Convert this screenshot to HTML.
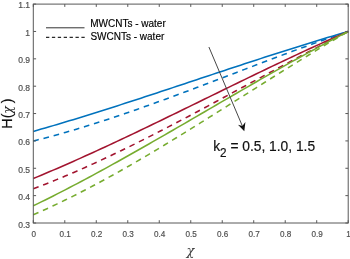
<!DOCTYPE html>
<html><head><meta charset="utf-8"><title>chart</title>
<style>html,body{margin:0;padding:0;background:#fff}body{width:350px;height:259px;overflow:hidden}</style>
</head><body>
<svg width="350" height="259" viewBox="0 0 350 259" style="display:block;filter:blur(0.35px)">
<rect width="350" height="259" fill="#fff"/>
<path d="M33.30,131.40 L37.29,130.26 L41.27,129.12 L45.26,127.96 L49.24,126.80 L53.23,125.63 L57.22,124.45 L61.20,123.26 L65.19,122.06 L69.17,120.86 L73.16,119.65 L77.15,118.43 L81.13,117.20 L85.12,115.97 L89.11,114.73 L93.09,113.49 L97.08,112.24 L101.06,110.98 L105.05,109.72 L109.04,108.45 L113.02,107.18 L117.01,105.90 L120.99,104.62 L124.98,103.33 L128.97,102.04 L132.95,100.74 L136.94,99.44 L140.92,98.14 L144.91,96.84 L148.90,95.53 L152.88,94.22 L156.87,92.90 L160.85,91.59 L164.84,90.27 L168.83,88.95 L172.81,87.63 L176.80,86.30 L180.78,84.98 L184.77,83.65 L188.76,82.33 L192.74,81.00 L196.73,79.68 L200.72,78.35 L204.70,77.02 L208.69,75.70 L212.67,74.37 L216.66,73.05 L220.65,71.73 L224.63,70.41 L228.62,69.09 L232.60,67.77 L236.59,66.46 L240.58,65.14 L244.56,63.83 L248.55,62.53 L252.53,61.22 L256.52,59.92 L260.51,58.62 L264.49,57.33 L268.48,56.04 L272.46,54.76 L276.45,53.47 L280.44,52.20 L284.42,50.93 L288.41,49.66 L292.39,48.40 L296.38,47.15 L300.37,45.90 L304.35,44.66 L308.34,43.42 L312.33,42.19 L316.31,40.97 L320.30,39.75 L324.28,38.54 L328.27,37.34 L332.26,36.15 L336.24,34.97 L340.23,33.79 L344.21,32.62 L348.20,31.46" fill="none" stroke="#0072BD" stroke-width="1.55"/>
<path d="M33.30,141.00 L37.29,140.00 L41.27,138.98 L45.26,137.94 L49.24,136.88 L53.23,135.81 L57.22,134.71 L61.20,133.59 L65.19,132.46 L69.17,131.31 L73.16,130.14 L77.15,128.95 L81.13,127.75 L85.12,126.53 L89.11,125.30 L93.09,124.05 L97.08,122.78 L101.06,121.50 L105.05,120.21 L109.04,118.90 L113.02,117.58 L117.01,116.25 L120.99,114.91 L124.98,113.55 L128.97,112.18 L132.95,110.80 L136.94,109.41 L140.92,108.01 L144.91,106.60 L148.90,105.18 L152.88,103.76 L156.87,102.32 L160.85,100.87 L164.84,99.42 L168.83,97.96 L172.81,96.50 L176.80,95.02 L180.78,93.54 L184.77,92.06 L188.76,90.57 L192.74,89.07 L196.73,87.57 L200.72,86.07 L204.70,84.56 L208.69,83.05 L212.67,81.54 L216.66,80.02 L220.65,78.51 L224.63,76.99 L228.62,75.47 L232.60,73.95 L236.59,72.43 L240.58,70.91 L244.56,69.39 L248.55,67.87 L252.53,66.35 L256.52,64.84 L260.51,63.32 L264.49,61.81 L268.48,60.31 L272.46,58.80 L276.45,57.30 L280.44,55.81 L284.42,54.32 L288.41,52.83 L292.39,51.35 L296.38,49.88 L300.37,48.41 L304.35,46.95 L308.34,45.50 L312.33,44.05 L316.31,42.62 L320.30,41.19 L324.28,39.77 L328.27,38.36 L332.26,36.96 L336.24,35.57 L340.23,34.19 L344.21,32.82 L348.20,31.46" fill="none" stroke="#0072BD" stroke-width="1.55" stroke-dasharray="5.65,4.86"/>
<path d="M33.30,178.50 L37.29,176.85 L41.27,175.19 L45.26,173.52 L49.24,171.83 L53.23,170.13 L57.22,168.42 L61.20,166.69 L65.19,164.95 L69.17,163.20 L73.16,161.44 L77.15,159.66 L81.13,157.88 L85.12,156.08 L89.11,154.28 L93.09,152.46 L97.08,150.64 L101.06,148.81 L105.05,146.97 L109.04,145.11 L113.02,143.26 L117.01,141.39 L120.99,139.52 L124.98,137.63 L128.97,135.75 L132.95,133.85 L136.94,131.95 L140.92,130.05 L144.91,128.13 L148.90,126.22 L152.88,124.30 L156.87,122.37 L160.85,120.44 L164.84,118.51 L168.83,116.57 L172.81,114.63 L176.80,112.69 L180.78,110.75 L184.77,108.80 L188.76,106.85 L192.74,104.90 L196.73,102.95 L200.72,101.00 L204.70,99.05 L208.69,97.10 L212.67,95.15 L216.66,93.20 L220.65,91.25 L224.63,89.30 L228.62,87.35 L232.60,85.41 L236.59,83.47 L240.58,81.53 L244.56,79.59 L248.55,77.66 L252.53,75.73 L256.52,73.81 L260.51,71.89 L264.49,69.97 L268.48,68.06 L272.46,66.16 L276.45,64.26 L280.44,62.36 L284.42,60.48 L288.41,58.60 L292.39,56.73 L296.38,54.86 L300.37,53.01 L304.35,51.16 L308.34,49.32 L312.33,47.49 L316.31,45.66 L320.30,43.85 L324.28,42.05 L328.27,40.26 L332.26,38.48 L336.24,36.71 L340.23,34.95 L344.21,33.20 L348.20,31.46" fill="none" stroke="#A2142F" stroke-width="1.55"/>
<path d="M33.30,188.80 L37.29,187.29 L41.27,185.76 L45.26,184.21 L49.24,182.63 L53.23,181.03 L57.22,179.40 L61.20,177.75 L65.19,176.09 L69.17,174.40 L73.16,172.69 L77.15,170.96 L81.13,169.21 L85.12,167.44 L89.11,165.65 L93.09,163.84 L97.08,162.02 L101.06,160.17 L105.05,158.31 L109.04,156.44 L113.02,154.55 L117.01,152.64 L120.99,150.72 L124.98,148.78 L128.97,146.83 L132.95,144.87 L136.94,142.89 L140.92,140.90 L144.91,138.89 L148.90,136.88 L152.88,134.85 L156.87,132.82 L160.85,130.77 L164.84,128.71 L168.83,126.64 L172.81,124.57 L176.80,122.49 L180.78,120.39 L184.77,118.29 L188.76,116.19 L192.74,114.07 L196.73,111.95 L200.72,109.83 L204.70,107.70 L208.69,105.56 L212.67,103.42 L216.66,101.28 L220.65,99.13 L224.63,96.98 L228.62,94.83 L232.60,92.67 L236.59,90.52 L240.58,88.36 L244.56,86.20 L248.55,84.05 L252.53,81.89 L256.52,79.73 L260.51,77.58 L264.49,75.43 L268.48,73.28 L272.46,71.13 L276.45,68.98 L280.44,66.84 L284.42,64.71 L288.41,62.57 L292.39,60.45 L296.38,58.32 L300.37,56.21 L304.35,54.10 L308.34,52.00 L312.33,49.90 L316.31,47.82 L320.30,45.74 L324.28,43.67 L328.27,41.61 L332.26,39.56 L336.24,37.52 L340.23,35.49 L344.21,33.47 L348.20,31.46" fill="none" stroke="#A2142F" stroke-width="1.55" stroke-dasharray="5.65,4.86"/>
<path d="M33.30,205.80 L37.29,203.86 L41.27,201.91 L45.26,199.94 L49.24,197.95 L53.23,195.94 L57.22,193.92 L61.20,191.88 L65.19,189.83 L69.17,187.76 L73.16,185.68 L77.15,183.59 L81.13,181.48 L85.12,179.36 L89.11,177.22 L93.09,175.08 L97.08,172.92 L101.06,170.75 L105.05,168.57 L109.04,166.38 L113.02,164.18 L117.01,161.97 L120.99,159.75 L124.98,157.52 L128.97,155.28 L132.95,153.03 L136.94,150.78 L140.92,148.52 L144.91,146.25 L148.90,143.98 L152.88,141.70 L156.87,139.42 L160.85,137.13 L164.84,134.83 L168.83,132.53 L172.81,130.23 L176.80,127.92 L180.78,125.62 L184.77,123.30 L188.76,120.99 L192.74,118.67 L196.73,116.36 L200.72,114.04 L204.70,111.72 L208.69,109.40 L212.67,107.09 L216.66,104.77 L220.65,102.45 L224.63,100.14 L228.62,97.82 L232.60,95.51 L236.59,93.21 L240.58,90.90 L244.56,88.60 L248.55,86.31 L252.53,84.02 L256.52,81.73 L260.51,79.45 L264.49,77.17 L268.48,74.90 L272.46,72.64 L276.45,70.38 L280.44,68.14 L284.42,65.90 L288.41,63.66 L292.39,61.44 L296.38,59.23 L300.37,57.02 L304.35,54.83 L308.34,52.64 L312.33,50.47 L316.31,48.31 L320.30,46.16 L324.28,44.02 L328.27,41.89 L332.26,39.78 L336.24,37.68 L340.23,35.59 L344.21,33.52 L348.20,31.46" fill="none" stroke="#77AC30" stroke-width="1.55"/>
<path d="M33.30,214.80 L37.29,213.06 L41.27,211.28 L45.26,209.48 L49.24,207.65 L53.23,205.80 L57.22,203.91 L61.20,202.00 L65.19,200.06 L69.17,198.10 L73.16,196.11 L77.15,194.09 L81.13,192.06 L85.12,190.00 L89.11,187.91 L93.09,185.81 L97.08,183.68 L101.06,181.53 L105.05,179.36 L109.04,177.17 L113.02,174.97 L117.01,172.74 L120.99,170.50 L124.98,168.23 L128.97,165.96 L132.95,163.66 L136.94,161.35 L140.92,159.02 L144.91,156.68 L148.90,154.33 L152.88,151.96 L156.87,149.58 L160.85,147.18 L164.84,144.78 L168.83,142.36 L172.81,139.94 L176.80,137.50 L180.78,135.05 L184.77,132.60 L188.76,130.13 L192.74,127.66 L196.73,125.18 L200.72,122.70 L204.70,120.21 L208.69,117.71 L212.67,115.21 L216.66,112.71 L220.65,110.20 L224.63,107.68 L228.62,105.17 L232.60,102.65 L236.59,100.14 L240.58,97.62 L244.56,95.10 L248.55,92.58 L252.53,90.07 L256.52,87.55 L260.51,85.04 L264.49,82.53 L268.48,80.02 L272.46,77.52 L276.45,75.02 L280.44,72.52 L284.42,70.03 L288.41,67.55 L292.39,65.08 L296.38,62.61 L300.37,60.15 L304.35,57.70 L308.34,55.26 L312.33,52.82 L316.31,50.40 L320.30,47.99 L324.28,45.59 L328.27,43.20 L332.26,40.83 L336.24,38.46 L340.23,36.12 L344.21,33.78 L348.20,31.46" fill="none" stroke="#77AC30" stroke-width="1.55" stroke-dasharray="5.65,4.86"/>
<rect x="33.3" y="4.1" width="314.9" height="218.9" fill="none" stroke="#585858" stroke-width="1"/>
<path d="M33.30,223.0v-2.8M33.30,4.1v2.8M64.79,223.0v-2.8M64.79,4.1v2.8M96.28,223.0v-2.8M96.28,4.1v2.8M127.77,223.0v-2.8M127.77,4.1v2.8M159.26,223.0v-2.8M159.26,4.1v2.8M190.75,223.0v-2.8M190.75,4.1v2.8M222.24,223.0v-2.8M222.24,4.1v2.8M253.73,223.0v-2.8M253.73,4.1v2.8M285.22,223.0v-2.8M285.22,4.1v2.8M316.71,223.0v-2.8M316.71,4.1v2.8M348.20,223.0v-2.8M348.20,4.1v2.8M33.3,223.00h2.8M348.2,223.00h-2.8M33.3,195.64h2.8M348.2,195.64h-2.8M33.3,168.28h2.8M348.2,168.28h-2.8M33.3,140.91h2.8M348.2,140.91h-2.8M33.3,113.55h2.8M348.2,113.55h-2.8M33.3,86.19h2.8M348.2,86.19h-2.8M33.3,58.83h2.8M348.2,58.83h-2.8M33.3,31.46h2.8M348.2,31.46h-2.8M33.3,4.10h2.8M348.2,4.10h-2.8" stroke="#585858" stroke-width="1" fill="none"/>
<g font-family="Liberation Sans, Arial, sans-serif" font-size="9.6" fill="#505050" stroke="#505050" stroke-width="0.2">
<text transform="translate(33.70,236.6) scale(0.85,1)" text-anchor="middle">0</text>
<text transform="translate(65.19,236.6) scale(0.85,1)" text-anchor="middle">0.1</text>
<text transform="translate(96.68,236.6) scale(0.85,1)" text-anchor="middle">0.2</text>
<text transform="translate(128.17,236.6) scale(0.85,1)" text-anchor="middle">0.3</text>
<text transform="translate(159.66,236.6) scale(0.85,1)" text-anchor="middle">0.4</text>
<text transform="translate(191.15,236.6) scale(0.85,1)" text-anchor="middle">0.5</text>
<text transform="translate(222.64,236.6) scale(0.85,1)" text-anchor="middle">0.6</text>
<text transform="translate(254.13,236.6) scale(0.85,1)" text-anchor="middle">0.7</text>
<text transform="translate(285.62,236.6) scale(0.85,1)" text-anchor="middle">0.8</text>
<text transform="translate(317.11,236.6) scale(0.85,1)" text-anchor="middle">0.9</text>
<text transform="translate(348.60,236.6) scale(0.85,1)" text-anchor="middle">1</text>
<text transform="translate(30,227.50) scale(0.89,1)" text-anchor="end">0.3</text>
<text transform="translate(30,200.14) scale(0.89,1)" text-anchor="end">0.4</text>
<text transform="translate(30,172.78) scale(0.89,1)" text-anchor="end">0.5</text>
<text transform="translate(30,145.41) scale(0.89,1)" text-anchor="end">0.6</text>
<text transform="translate(30,118.05) scale(0.89,1)" text-anchor="end">0.7</text>
<text transform="translate(30,90.69) scale(0.89,1)" text-anchor="end">0.8</text>
<text transform="translate(30,63.33) scale(0.89,1)" text-anchor="end">0.9</text>
<text transform="translate(30,35.96) scale(0.89,1)" text-anchor="end">1</text>
<text transform="translate(30,8.30) scale(0.89,1)" text-anchor="end">1.1</text>
</g>
<path d="M46,27.8H84.5" stroke="#333" stroke-width="1"/>
<path d="M46,37.3H85" stroke="#2a2a2a" stroke-width="1.15" stroke-dasharray="3.3,2.6"/>
<g font-family="Liberation Sans, Arial, sans-serif" font-size="10" fill="#000" stroke="#000" stroke-width="0.15">
<text x="90.2" y="26.7">MWCNTs - water</text>
<text x="90.4" y="40.4">SWCNTs - water</text>
</g>
<path d="M208.9,47 L242.6,126.6" stroke="#3c3c3c" stroke-width="0.95" fill="none"/>
<path d="M244.3,131.3 L238.0,124.8 L242.4,126.0 L245.4,122.1 Z" fill="#111"/>
<text transform="translate(213.2,150.6) scale(0.945,1)" font-family="Liberation Sans, Arial, sans-serif" font-size="14.6" fill="#111" stroke="#111" stroke-width="0.2">k<tspan font-size="12.4" dy="6.8">2</tspan><tspan dy="-6.8"> = 0.5, 1.0, 1.5</tspan></text>
<text x="190.4" y="254.6" text-anchor="middle" font-family="DejaVu Serif, Liberation Serif, serif" font-style="italic" font-size="13" fill="#404040">χ</text>
<g transform="translate(11.9,128.7) rotate(-90)" font-family="Liberation Sans, Arial, sans-serif" font-size="14.4" fill="#111" stroke="#111" stroke-width="0.2">
<text x="0" y="0">H(</text>
<text x="15.0" y="0" font-family="DejaVu Serif, Liberation Serif, serif" font-style="italic" font-size="12.6" fill="#222" stroke="none">χ</text>
<text x="25.4" y="0">)</text>
</g>
</svg>
</body></html>
